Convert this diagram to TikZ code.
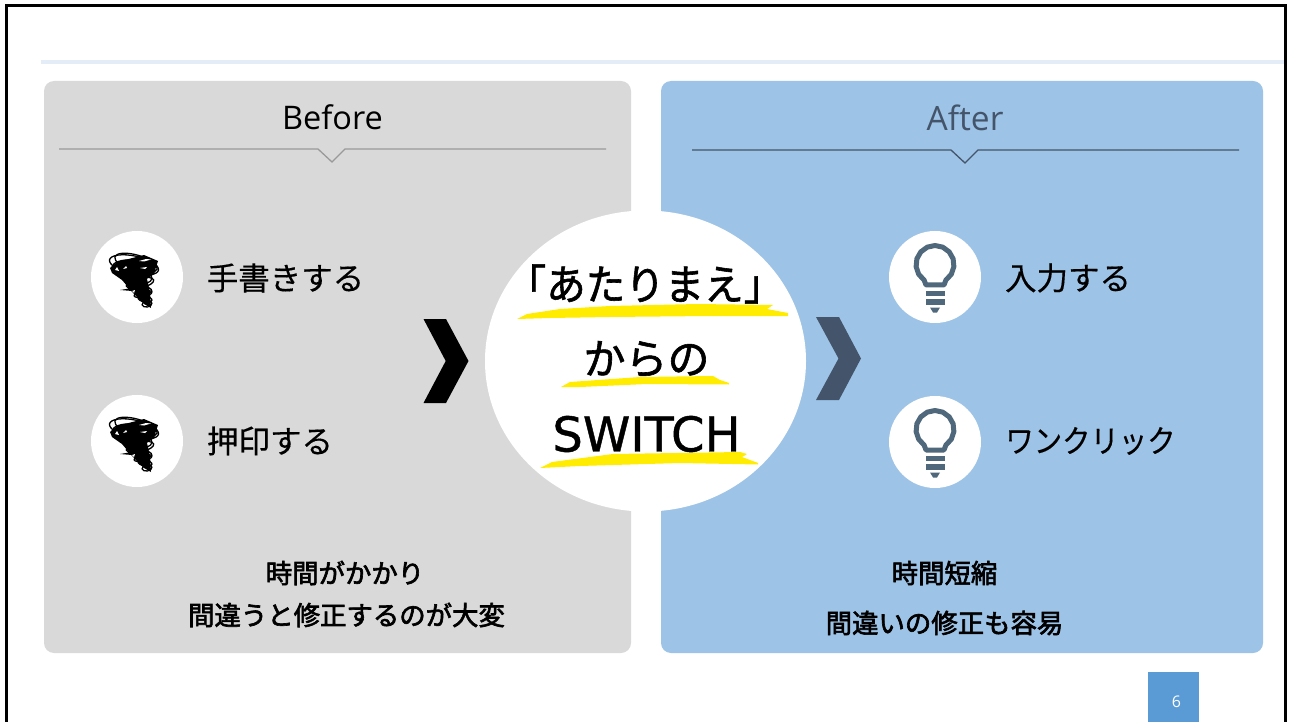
\documentclass[tikz,border=0pt]{standalone}
\usepackage{fontspec}
\setmainfont{Noto Sans CJK JP}
\newfontfamily\latinfont{Open Sans}
\newfontfamily\heavyfont[FakeBold=1.4]{Noto Sans CJK JP}
\newfontfamily\softfont[FakeBold=0.35]{Noto Sans CJK JP}
\newfontfamily\semifont[FakeBold=2.4]{Noto Sans CJK JP}
\newfontfamily\widefont[FakeBold=0.9]{DejaVu Sans}
\usepackage{tikz}
\usetikzlibrary{shapes}
\definecolor{panelgrey}{HTML}{D9D9D9}
\definecolor{panelblue}{HTML}{9DC3E6}
\definecolor{slate}{HTML}{44546A}
\definecolor{bulbgrey}{HTML}{4F687B}
\definecolor{topline}{HTML}{E3ECF7}
\definecolor{pagebox}{HTML}{5B9BD5}
\definecolor{marker}{HTML}{FFEC00}
\tikzset{
  panel/.style={rounded corners=10pt,draw=none},
  headtext/.style={font=\latinfont\fontsize{32.5}{33}\selectfont},
  bigtext/.style={font=\softfont\fontsize{31.5}{32}\selectfont},
  boldtext/.style={font=\semifont\fontsize{26.4}{27}\selectfont},
  centertext/.style={font=\heavyfont\fontsize{42}{42}\selectfont},
  bulbline/.style={draw=bulbgrey,line width=5pt,line join=round}
}
\newcommand{\iconbg}[3]{\node[shape=circle,draw=none,fill=white,inner sep=0pt,minimum size=92pt] (#3) at ( #1 , #2 ) {};}
\newcommand{\tornado}[3]{
  \iconbg{#1}{#2}{#3}
  \begin{scope}[shift={(#1,#2)}]
    \fill[black] (-20,-15) -- (7,-22) -- (21,-16) -- (18,-7) -- (10,2) -- (13,15) -- (14,31) -- (7,27) -- (-3,17) -- (-15,3) -- (-25,-4) -- (-27,-9) -- cycle;
    \foreach \cx/\cy/\rx/\ry/\ang in {-3/-12/25/9/-12,-1/-14/22/8/-16,-4/-8/21/9/-5,0/-5/18/8/8,1/0/14/7/-6,3/6/14/5/12,3/12/12/4/-10,6/17/9/3/12,8/22/7/3/-10,10/27/5/3/10}
      \draw[line width=1.3pt,rotate around={\ang:(\cx,\cy)}] (\cx,\cy) ellipse [x radius=\rx,y radius=\ry];
    % flecks
    \fill[white] (2,-16) -- (9,-18) -- (14,-17.5) -- (7,-15.5) -- cycle;
    \fill[white] (-22,-7) -- (-20,-10) -- (-18,-6) -- cycle;
    \fill[white] (-14,-8) -- (-11,-11) -- (-10,-9) -- cycle;
    \fill[white] (3,-9) -- (10,-10) -- (8,-8) -- cycle;
    \fill[white] (-5,14) -- (-2,13) -- (-3,16) -- cycle;
    \fill[black] (-17,13) -- (-5,11) -- (-5,14) -- cycle;
  \end{scope}
}
\newcommand{\bulb}[3]{
  \iconbg{#1}{#2}{#3}
  \begin{scope}[shift={(#1,#2)}]
    \draw[bulbline] (-9,8) -- plot[domain=125:415,samples=13] ({19*cos(\x)},{-12.5+19*sin(\x)}) -- (9,8) -- cycle;
    \fill[bulbgrey] (-9.5,13.5) rectangle (9.5,19);
    \fill[bulbgrey] (-9.5,22) rectangle (9.5,27.5);
    \fill[bulbgrey] (-5,30.5) -- (5,30.5) -- (2,35.5) -- (-2,35.5) -- cycle;
  \end{scope}
}
\begin{document}
\begin{tikzpicture}[x=1pt,y=-1pt]
        \useasboundingbox (0,0) rectangle (1291,722);
        % frame
        \draw[line width=3.5pt] (6.5,722) -- (6.5,5.5) -- (1285.5,5.5) -- (1285.5,722);
        \draw[topline,line width=4pt] (41,62) -- (1284,62);

        % panels
        \fill[panelgrey,panel] (44,81) rectangle (631,653);
        \fill[panelblue,panel] (661,81) rectangle (1263,653);

        % before head
        \node[headtext] (before) at (332.5,117) {Before};
        \draw[gray!80,line width=1.3pt] (59,149) -- (318,149) -- (332,162) -- (345,149) -- (606,149);
        % after head
        \node[headtext,text=slate,font=\latinfont\fontsize{33.5}{34}\selectfont] (after) at (965,118) {After};
        \draw[slate,line width=1.3pt] (692,150) -- (951,150) -- (965,163) -- (978,150) -- (1239,150);

        % before row
        \tornado{137}{277}{storma}
        \tornado{137}{441}{stormb}
        \node[bigtext] (handwrite) at (285.5,278) {手書きする};
        \node[bigtext] (stamp) at (270,441) {押印する};
        % after row
        \bulb{935}{277}{bulba}
        \bulb{935}{442}{bulbb}
        \node[bigtext] (typein) at (1068,278) {入力する};
        \node[bigtext,xscale=0.9] (oneclick) at (1090.5,441) {ワンクリック};

        % chevrons
        \fill[black] (423.5,319) -- (446,319) -- (468.5,361) -- (446,403) -- (423.5,403) -- (445.7,361) -- cycle;
        \fill[slate] (816,317) -- (839,317) -- (861,358.5) -- (839,400) -- (816,400) -- (838.5,358.5) -- cycle;

        % center
        \node[shape=ellipse,draw=none,fill=white,inner sep=0pt,minimum width=321pt,minimum height=301pt] (hub) at (645.5,361) {};
        \fill[marker] (517,319) -- (527,314) -- (560,309) -- (610,306) -- (697,304) -- (773,305) -- (767,309) -- (788,313) -- (788,316) -- (710,316) -- (610,317) -- (550,318) -- cycle;
        \fill[marker] (561,387) -- (570,382) -- (640,377) -- (713,376) -- (720,380) -- (729,383) -- (729,384.5) -- (647,384) -- (580,387) -- cycle;
        \fill[marker] (540,468) -- (552,462) -- (613,454) -- (740,452) -- (747,454) -- (742,457) -- (758,463) -- (758,464.5) -- (680,463) -- (580,466) -- cycle;
        \node[centertext,xscale=0.94] (word) at (645,284) {「あたりまえ」};
        \node[centertext] (from) at (646.5,359) {からの};
        \node[font=\widefont\fontsize{48}{48}\selectfont] (switch) at (646.5,434) {SWITCH};

        % bottom text
        \node[boldtext] (costa) at (345,573) {時間がかかり};
        \node[boldtext] (costb) at (346.5,615) {間違うと修正するのが大変};
        \node[boldtext] (gaina) at (944.5,573) {時間短縮};
        \node[boldtext] (gainb) at (944.5,623) {間違いの修正も容易};

        % page number
        \fill[pagebox] (1148,672) rectangle (1199,722);
        \node[text=white,font=\latinfont\fontsize{16}{16}\selectfont] (pagenum) at (1176.5,702) {6};
\end{tikzpicture}
\end{document}
